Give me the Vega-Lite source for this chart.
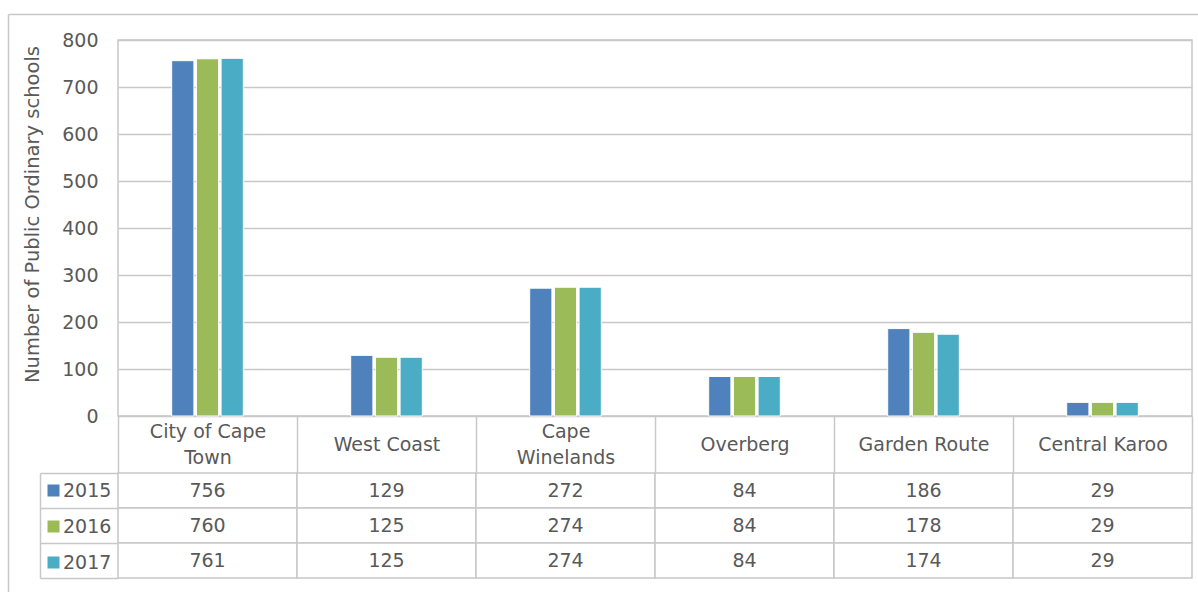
{
  "$schema": "https://vega.github.io/schema/vega-lite/v6.json",
  "width": 1074,
  "height": 376,
  "autosize": {"type": "none"},
  "padding": {"left": 118, "top": 40, "right": 6, "bottom": 176},
  "config": {
    "font": "DejaVu Sans",
    "view": {"stroke": "#c8c8c8", "strokeWidth": 1.5}
  },
  "data": {
    "values": [
      {"region": "City of Cape Town", "year": "2015", "schools": 756},
      {"region": "City of Cape Town", "year": "2016", "schools": 760},
      {"region": "City of Cape Town", "year": "2017", "schools": 761},
      {"region": "West Coast", "year": "2015", "schools": 129},
      {"region": "West Coast", "year": "2016", "schools": 125},
      {"region": "West Coast", "year": "2017", "schools": 125},
      {"region": "Cape Winelands", "year": "2015", "schools": 272},
      {"region": "Cape Winelands", "year": "2016", "schools": 274},
      {"region": "Cape Winelands", "year": "2017", "schools": 274},
      {"region": "Overberg", "year": "2015", "schools": 84},
      {"region": "Overberg", "year": "2016", "schools": 84},
      {"region": "Overberg", "year": "2017", "schools": 84},
      {"region": "Garden Route", "year": "2015", "schools": 186},
      {"region": "Garden Route", "year": "2016", "schools": 178},
      {"region": "Garden Route", "year": "2017", "schools": 174},
      {"region": "Central Karoo", "year": "2015", "schools": 29},
      {"region": "Central Karoo", "year": "2016", "schools": 29},
      {"region": "Central Karoo", "year": "2017", "schools": 29}
    ]
  },
  "layer": [
    {
      "mark": {"type": "bar", "stroke": "white", "strokeWidth": 1},
      "encoding": {
        "x": {
          "field": "region",
          "type": "nominal",
          "sort": ["City of Cape Town", "West Coast", "Cape Winelands", "Overberg", "Garden Route", "Central Karoo"],
          "scale": {"paddingInner": 0.6, "paddingOuter": 0.3},
          "axis": null
        },
        "xOffset": {
          "field": "year",
          "type": "nominal",
          "scale": {"paddingInner": 0.1, "paddingOuter": 0}
        },
        "y": {
          "field": "schools",
          "type": "quantitative",
          "scale": {"domain": [0, 800]},
          "axis": {
            "values": [0, 100, 200, 300, 400, 500, 600, 700, 800],
            "grid": true,
            "gridColor": "#c8c8c8",
            "gridWidth": 1.5,
            "domain": false,
            "ticks": false,
            "labelPadding": 20,
            "labelFontSize": 19,
            "labelColor": "#595959",
            "title": "Number of Public Ordinary schools",
            "titleFontSize": 19.5,
            "titleFontWeight": "normal",
            "titleColor": "#595959",
            "titlePadding": 19,
            "titleY": 174
          }
        },
        "color": {
          "field": "year",
          "type": "nominal",
          "scale": {"domain": ["2015", "2016", "2017"], "range": ["#4f81bd", "#9bbb59", "#4bacc6"]},
          "legend": {
            "orient": "none",
            "legendX": -74,
            "legendY": 441,
            "title": null,
            "symbolType": "square",
            "symbolSize": 144,
            "symbolStrokeWidth": 0,
            "labelFontSize": 19,
            "labelColor": "#595959",
            "labelOffset": 0,
            "rowPadding": 16,
            "padding": 0
          }
        }
      }
    },
    {
      "layer": [
        {
          "mark": {"type": "rect", "fill": "white", "stroke": "#c8c8c8", "strokeWidth": 1.5},
          "encoding": {
            "x": {
              "field": "region",
              "type": "nominal",
              "sort": ["City of Cape Town", "West Coast", "Cape Winelands", "Overberg", "Garden Route", "Central Karoo"],
              "scale": {"paddingInner": 0, "paddingOuter": 0},
              "axis": {
                "orient": "bottom",
                "title": null,
                "domain": false,
                "ticks": true,
                "tickBand": "extent",
                "tickSize": 57,
                "tickWidth": 1.5,
                "tickColor": "#c8c8c8",
                "labelAngle": 0,
                "labelBaseline": "middle",
                "labelPadding": {"condition": {"test": "datum.value == 'City of Cape Town' || datum.value == 'Cape Winelands'", "value": -41.5}, "value": -28.5},
                "labelFontSize": 19,
                "labelColor": "#595959",
                "labelLineHeight": 26,
                "labelLimit": 300,
                "labelExpr": "datum.label == 'City of Cape Town' ? ['City of Cape', 'Town'] : datum.label == 'Cape Winelands' ? ['Cape', 'Winelands'] : datum.label"
              }
            },
            "y": {
              "field": "year",
              "type": "nominal",
              "scale": {"range": [433, 538], "paddingInner": 0, "paddingOuter": 0},
              "axis": {
                "orient": "left",
                "offset": 78,
                "title": null,
                "labels": false,
                "grid": false,
                "domain": true,
                "domainColor": "#c8c8c8",
                "domainWidth": 1.5,
                "ticks": true,
                "tickBand": "extent",
                "tickSize": -78,
                "tickWidth": 1.5,
                "tickColor": "#c8c8c8"
              }
            }
          }
        },
        {
          "mark": {"type": "text", "fontSize": 19, "color": "#595959"},
          "encoding": {
            "x": {"field": "region", "type": "nominal", "sort": ["City of Cape Town", "West Coast", "Cape Winelands", "Overberg", "Garden Route", "Central Karoo"]},
            "y": {"field": "year", "type": "nominal"},
            "text": {"field": "schools", "type": "quantitative"}
          }
        }
      ]
    },
    {
      "mark": {"type": "point", "opacity": 0},
      "encoding": {
        "x": {
          "field": "region",
          "type": "nominal",
          "scale": {"type": "point", "range": [-110, 1080]},
          "axis": {"orient": "top", "offset": 26, "title": null, "labels": false, "ticks": false, "grid": false, "domain": true, "domainColor": "#c8c8c8", "domainWidth": 1.5}
        },
        "y": {
          "field": "year",
          "type": "nominal",
          "scale": {"type": "point", "range": [-26, 560]},
          "axis": {"orient": "left", "offset": 110, "title": null, "labels": false, "ticks": false, "grid": false, "domain": true, "domainColor": "#c8c8c8", "domainWidth": 1.5}
        }
      }
    }
  ],
  "resolve": {"scale": {"x": "independent", "y": "independent"}}
}
